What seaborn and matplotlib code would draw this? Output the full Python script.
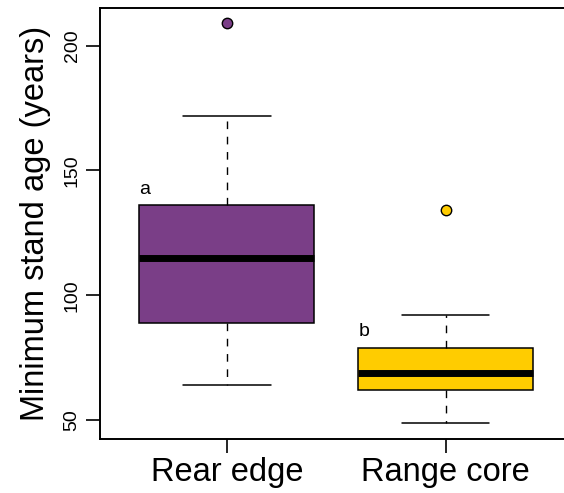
import numpy as np
import pandas as pd
import matplotlib
matplotlib.use("Agg")
import matplotlib.pyplot as plt
import seaborn as sns

# ---- data ----
groups = ["Rear edge", "Range core"]
rear_edge_ages = [64, 72, 80, 89, 95, 104, 115, 120, 128, 136, 150, 172, 209]
range_core_ages = [49, 55, 59, 62, 65, 67, 69, 71, 75, 79, 85, 92, 134]
letters = ["a", "b"]
colors = ["#7A3E87", "#FFCC00"]
y_ticks = [50, 100, 150, 200]
y_label = "Minimum stand age (years)"

df = pd.DataFrame({
    "group": [groups[0]] * len(rear_edge_ages) + [groups[1]] * len(range_core_ages),
    "age": rear_edge_ages + range_core_ages,
})

sns.set_theme(style="white")
plt.rcParams["font.family"] = ["Liberation Sans", "DejaVu Sans"]
plt.rcParams["text.color"] = "black"
plt.rcParams["axes.labelcolor"] = "black"
plt.rcParams["xtick.color"] = "black"
plt.rcParams["ytick.color"] = "black"

fig = plt.figure(figsize=(5.64, 4.93), dpi=100)
ax = fig.add_axes([100 / 564, 54 / 493, 477 / 564, 431.5 / 493])

sns.boxplot(
    data=df, x="group", y="age", hue="group", order=groups, hue_order=groups,
    palette=colors, saturation=1, width=0.8, whis=1.5, legend=False,
    linecolor="black", linewidth=1.1, ax=ax,
    medianprops=dict(color="black", linewidth=5, solid_capstyle="butt"),
    whiskerprops=dict(color="black", linewidth=1.0, linestyle=(0, (5.5, 5.5))),
    capprops=dict(color="black", linewidth=1.1),
    flierprops=dict(marker="o", markersize=7.5, markeredgecolor="black",
                    markeredgewidth=1.0, markerfacecolor="white"),
)

# colour the outliers like their box
for line in ax.lines:
    if line.get_marker() == "o" and len(line.get_xdata()) > 0:
        idx = int(round(float(np.mean(line.get_xdata()))))
        line.set_markerfacecolor(colors[idx])

# significance letters above each box
for i, vals in enumerate([rear_edge_ages, range_core_ages]):
    q3 = np.percentile(vals, 75)
    ax.text(i - 0.375, q3 + 3, letters[i], ha="center", va="bottom",
            fontsize=14, color="black")

ax.set_xlim(-0.58, 1.6)
ax.set_ylim(42.4, 215.3)
ax.set_yticks(y_ticks)
ax.set_yticklabels([str(t) for t in y_ticks], rotation=90, va="center")
ax.set_xlabel("")
ax.set_ylabel(y_label, fontsize=23.5, labelpad=9, color="black")
ax.tick_params(axis="both", direction="out", length=10, width=1.2,
               color="black", labelcolor="black", left=True, bottom=True)
ax.tick_params(axis="y", labelsize=14, pad=4)
ax.tick_params(axis="x", labelsize=23.5, pad=3)
for s in ax.spines.values():
    s.set_visible(True)
    s.set_color("black")
    s.set_linewidth(1.4)

fig.savefig("out.png", dpi=100)
